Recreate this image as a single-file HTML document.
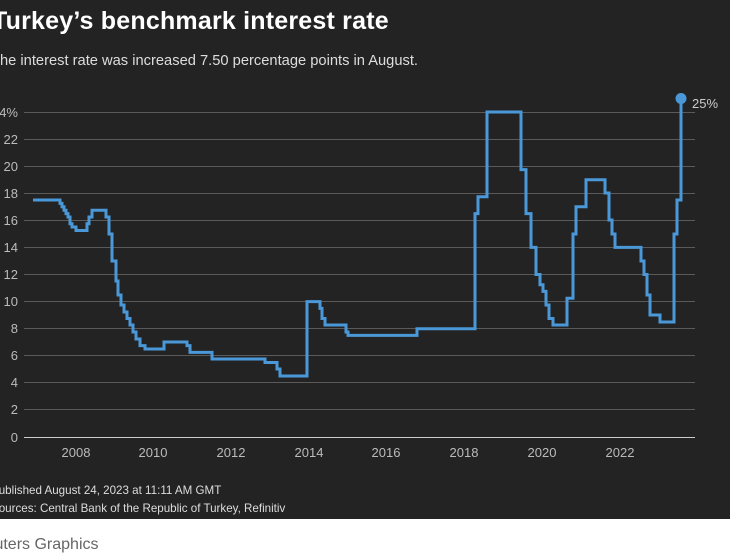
<!DOCTYPE html>
<html><head><meta charset="utf-8"><style>
html,body{margin:0;padding:0;background:#fff;}
body{width:730px;height:547px;overflow:hidden;position:relative;font-family:"Liberation Sans",sans-serif;}
.dark{position:absolute;left:0;top:0;width:730px;height:519px;background:#232323;}
.t{position:absolute;white-space:nowrap;}
</style></head><body>
<div class="dark"></div>
<div class="t" style="left:-8px;top:7px;font-size:25px;font-weight:bold;color:#fff;letter-spacing:0.2px">Turkey’s benchmark interest rate</div>
<div class="t" style="left:-9px;top:53px;font-size:14.7px;color:#ddd;">The interest rate was increased 7.50 percentage points in August.</div>
<svg style="position:absolute;left:0;top:0" width="730" height="547" font-family="Liberation Sans, sans-serif">
<g stroke="#5a5a5a" stroke-width="1">
<line x1="24" x2="695" y1="112.5" y2="112.5"/><line x1="24" x2="695" y1="139.5" y2="139.5"/><line x1="24" x2="695" y1="166.5" y2="166.5"/><line x1="24" x2="695" y1="193.5" y2="193.5"/><line x1="24" x2="695" y1="220.5" y2="220.5"/><line x1="24" x2="695" y1="247.5" y2="247.5"/><line x1="24" x2="695" y1="274.5" y2="274.5"/><line x1="24" x2="695" y1="301.5" y2="301.5"/><line x1="24" x2="695" y1="328.5" y2="328.5"/><line x1="24" x2="695" y1="355.5" y2="355.5"/><line x1="24" x2="695" y1="382.5" y2="382.5"/><line x1="24" x2="695" y1="409.5" y2="409.5"/>
</g>
<line x1="24" x2="695" y1="437.5" y2="437.5" stroke="#ccc" stroke-width="1"/>
<g fill="#bbb" font-size="13" text-anchor="end">
<text x="18" y="117">24%</text><text x="18" y="144">22</text><text x="18" y="171">20</text><text x="18" y="198">18</text><text x="18" y="225">16</text><text x="18" y="252">14</text><text x="18" y="279">12</text><text x="18" y="306">10</text><text x="18" y="333">8</text><text x="18" y="360">6</text><text x="18" y="387">4</text><text x="18" y="414">2</text><text x="18" y="442">0</text>
</g>
<g fill="#bbb" font-size="13" text-anchor="middle">
<text x="76" y="457">2008</text><text x="153" y="457">2010</text><text x="231" y="457">2012</text><text x="309" y="457">2014</text><text x="386" y="457">2016</text><text x="464" y="457">2018</text><text x="542" y="457">2020</text><text x="620" y="457">2022</text>
</g>
<path fill="none" stroke="#4a98d8" stroke-width="3" stroke-linejoin="miter" d="M33 200H60V203.4H62V206.8H64V210.2H66V213.6H68V217H70V223.7H72V227H76V230.5H87V223.7H89V217H92V210.2H106V217H109V234H112V261H116V281H118V295H121V305H124V312H127V318.5H130V325H133V332H136V339H140V345.6H145V349H164V342H187V345.6H190V352.4H212V359H265V362.5H277V369H280V376H307V301.6H320V308.4H322V318.5H325V325H346V332H348V335.4H417V328.7H475V213.6H478V196.7H487V112H521V169.6H526V213.6H531V247.4H536V274.5H540V284.7H543V291.4H546V305H549V318.5H553V325H567V298.2H573V234H576V206.8H586V179.7H605V193H609V220H612V234H615V247.4H641V261H644V274.5H647V295H650V315H660V322H674V234H677V200H681V98.5"/>
<circle cx="681" cy="98.5" r="5.5" fill="#4a98d8"/>
<text x="692" y="108" fill="#ccc" font-size="13">25%</text>
</svg>
<div class="t" style="left:-9px;top:484px;font-size:11.6px;color:#ddd;">Published August 24, 2023 at 11:11 AM GMT</div>
<div class="t" style="left:-9px;top:502px;font-size:11.6px;color:#ddd;">Sources: Central Bank of the Republic of Turkey, Refinitiv</div>
<div class="t" style="left:-26px;top:536px;font-size:16px;color:#666;">Reuters Graphics</div>
</body></html>
